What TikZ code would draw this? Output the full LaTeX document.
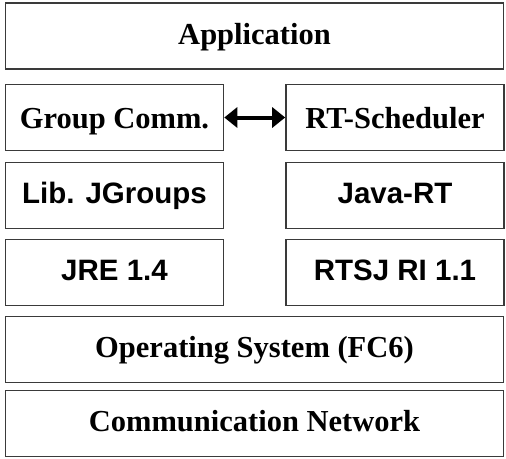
\documentclass[tikz,border=0pt]{standalone}
\usepackage{fontspec}
\setmainfont{Liberation Serif}
\setsansfont{Liberation Sans}
\usetikzlibrary{arrows.meta}
\definecolor{boxline}{HTML}{3A3A3A}
\tikzset{
  layer/.style={draw=boxline,line width=1.6pt,inner sep=0pt,minimum height=66pt,
    text height=22pt,text depth=6pt,
    font=\fontsize{30.5}{33}\selectfont\bfseries},
  wide/.style={layer,minimum width=498pt},
  half/.style={layer,minimum width=218pt},
  lowtxt/.style={text depth=1pt},
  sanslbl/.style={font=\fontsize{29.5}{32}\selectfont\sffamily\bfseries},
  dblarr/.style={{Triangle[length=13pt,width=20pt]}-{Triangle[length=13pt,width=20pt]},line width=4pt},
}
\begin{document}
\begin{tikzpicture}[x=1pt,y=-1pt]
  \useasboundingbox (0,0) rectangle (506,458);
  \node[wide] (app) at (254.5,36) {Application};
  % middle layers
  \node[half,lowtxt] (grp) at (114.5,117.5) {Group Comm.};
  \node[half,lowtxt] (sched) at (395,117.5) {RT-Scheduler};
  \node[half,sanslbl] (jgrp) at (114.5,195.5) {Lib. JGroups};
  \node[half,sanslbl] (jrt) at (395,195.5) {Java-RT};
  \node[half,sanslbl] (jre) at (114.5,272.5) {JRE 1.4};
  \node[half,sanslbl] (rtsj) at (395,272.5) {RTSJ RI 1.1};
  % bottom layers
  \node[wide] (os) at (254.5,349.5) {Operating System (FC6)};
  \node[wide] (net) at (254.5,423.5) {Communication Network};
  \draw[dblarr] (grp.east) -- (sched.west);
\end{tikzpicture}
\end{document}
